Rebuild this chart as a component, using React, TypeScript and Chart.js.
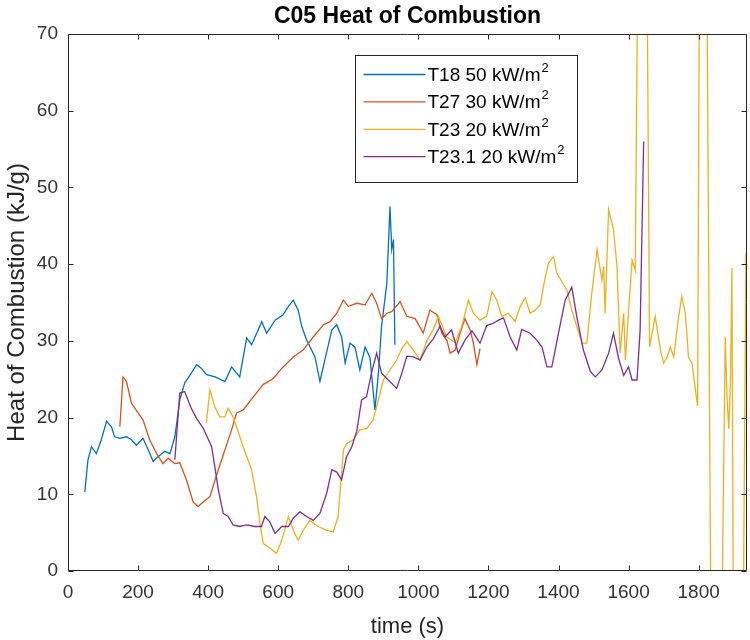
import React, { useEffect, useRef } from "react";
import { Chart, registerables } from "chart.js";

Chart.register(...registerables);

const FONT = '"Liberation Sans", Arial, Helvetica, sans-serif';

const chartTitle = "C05 Heat of Combustion";
const xLabel = "time (s)";
const yLabel = "Heat of Combustion (kJ/g)";

const seriesNames = ["T18 50 kW/m²", "T27 30 kW/m²", "T23 20 kW/m²", "T23.1 20 kW/m²"];
const legendBase = ["T18 50 kW/m", "T27 30 kW/m", "T23 20 kW/m", "T23.1 20 kW/m"];
const legendSup = "2";
const seriesColors = ["#0072BD", "#D95319", "#EDB120", "#7E2F8E"];

const xTicks = [0, 200, 400, 600, 800, 1000, 1200, 1400, 1600, 1800];
const yTicks = [0, 10, 20, 30, 40, 50, 60, 70];
const xMin = 0;
const xMax = 1938;
const yMin = 0;
const yMax = 70;

// T18 50 kW/m2
const tT18 = [48, 57, 67, 81, 95, 110, 124, 133, 148, 167, 181, 195, 214, 229, 243, 257, 276, 291, 305, 319, 333, 352, 367, 381, 395, 420, 448, 467, 490, 510, 524, 553, 567, 591, 614, 629, 643, 657, 667, 681, 705, 719, 733, 753, 767, 781, 791, 805, 819, 833, 848, 862, 876, 886, 895, 910, 919, 924, 929, 933];
const vT18 = [10.3, 14.5, 16.2, 15.3, 17.1, 19.5, 18.8, 17.5, 17.3, 17.5, 17.1, 16.4, 17.3, 15.8, 14.3, 14.9, 15.6, 15.3, 17.5, 22.3, 24.5, 25.8, 26.9, 26.4, 25.6, 25.3, 24.7, 26.6, 25.3, 30.4, 29.5, 32.5, 31, 32.7, 33.4, 34.5, 35.3, 34, 31.9, 30.1, 27.9, 24.7, 27.5, 31.4, 32.1, 30.5, 27.1, 29.7, 29.2, 26.2, 29.2, 27.8, 21, 25.8, 31.9, 37.5, 47.5, 41.9, 43.2, 29.5];

// T27 30 kW/m2
const tT27 = [148, 157, 167, 181, 200, 214, 233, 253, 271, 286, 305, 319, 338, 357, 371, 386, 405, 429, 448, 467, 481, 500, 529, 557, 586, 614, 643, 671, 700, 729, 748, 767, 786, 800, 824, 848, 867, 881, 895, 910, 924, 948, 967, 991, 1014, 1033, 1053, 1067, 1081, 1091, 1105, 1119, 1133, 1148, 1157, 1167, 1176];
const vT27 = [18.8, 25.3, 24.7, 21.9, 20.6, 19.7, 17.1, 15.3, 14.0, 14.7, 14.0, 14.1, 11.9, 9.0, 8.4, 9.0, 9.7, 13.2, 15.8, 18.4, 20.6, 21.0, 22.7, 24.3, 25.1, 26.6, 27.9, 28.8, 30.5, 32.1, 32.5, 33.6, 35.3, 34.5, 34.9, 34.7, 36.2, 34.9, 32.9, 33.6, 33.8, 35.1, 33.2, 32.9, 31.0, 34.0, 33.4, 31.0, 30.1, 28.4, 28.8, 31.0, 32.9, 31.4, 29.7, 26.9, 29.0];

// T23 20 kW/m2
const tT23 = [395, 405, 419, 433, 448, 457, 471, 481, 500, 524, 538, 548, 557, 576, 595, 610, 629, 643, 657, 671, 690, 714, 738, 757, 771, 786, 795, 814, 833, 853, 871, 886, 900, 919, 938, 953, 967, 986, 1005, 1024, 1043, 1057, 1081, 1105, 1124, 1143, 1157, 1176, 1195, 1210, 1224, 1238, 1257, 1276, 1291, 1305, 1319, 1333, 1348, 1357, 1371, 1386, 1395, 1410, 1424, 1438, 1452, 1467, 1481, 1495, 1510, 1524, 1529, 1533, 1543, 1557, 1567, 1576, 1586, 1591, 1600, 1610, 1619, 1632, 1648, 1660, 1676, 1691, 1700, 1710, 1719, 1729, 1743, 1752, 1762, 1771, 1781, 1797, 1806, 1818, 1838, 1860, 1876, 1881, 1886, 1891, 1895, 1902, 1922, 1935, 1938];
const vT23 = [19.3, 23.6, 21.4, 20.1, 20.1, 21.2, 20.1, 18.8, 16.2, 13.2, 9.7, 6.2, 3.6, 3.0, 2.3, 4.0, 7.1, 5.3, 4.0, 5.3, 6.6, 5.8, 5.3, 5.1, 7.1, 15.8, 16.6, 17.1, 18.4, 18.6, 19.7, 22.3, 24.9, 26.2, 27.5, 29.0, 29.9, 28.8, 27.5, 30.0, 31.5, 33.2, 30.5, 29.8, 31.9, 35.3, 33.6, 32.7, 33.2, 36.4, 35.3, 33.2, 33.6, 32.5, 34.5, 35.6, 33.6, 34.0, 34.7, 37.1, 40.1, 41.0, 38.8, 37.7, 36.6, 34.0, 31.9, 29.7, 29.7, 36.2, 41.9, 37.9, 39.7, 33.6, 47.1, 44.5, 39.7, 28.4, 33.6, 27.5, 34.0, 40.5, 39.2, 110, 110, 29.2, 33.2, 28.8, 27.1, 27.9, 29.2, 27.9, 33.2, 35.8, 33.6, 27.9, 27.1, 21.5, 120, 120, -30, -30, 30.5, 22.7, 18.5, 25.0, 39.5, -40, -40, 41.5, 40.0];

// T23.1 20 kW/m2
const tT231 = [305, 319, 333, 352, 367, 386, 400, 410, 419, 429, 443, 457, 471, 490, 510, 533, 552, 562, 576, 591, 610, 629, 643, 662, 681, 700, 719, 738, 753, 767, 781, 795, 810, 824, 838, 852, 867, 881, 895, 914, 938, 953, 967, 986, 1005, 1024, 1043, 1062, 1076, 1095, 1114, 1133, 1153, 1176, 1195, 1214, 1229, 1243, 1262, 1281, 1295, 1319, 1338, 1353, 1367, 1381, 1400, 1419, 1438, 1452, 1471, 1491, 1505, 1524, 1543, 1557, 1571, 1586, 1600, 1610, 1624, 1633, 1643];
const vT231 = [14.5, 23.2, 23.4, 21.2, 19.9, 18.6, 17.2, 16.2, 13.6, 10.6, 7.5, 7.1, 6.0, 5.8, 6.0, 5.8, 5.8, 7.1, 6.4, 4.9, 5.8, 5.8, 6.9, 7.7, 7.1, 6.6, 7.5, 10.1, 13.2, 12.9, 11.9, 14.9, 16.2, 18.2, 22.3, 22.7, 26.0, 28.4, 25.8, 24.9, 23.8, 25.8, 28.0, 27.9, 27.5, 29.2, 30.3, 31.9, 30.5, 31.4, 28.4, 30.1, 31.3, 29.7, 32.0, 32.3, 32.7, 33.0, 30.5, 28.8, 31.5, 31.0, 30.1, 29.2, 26.6, 26.6, 31.0, 35.3, 37.0, 33.2, 28.8, 26.0, 25.3, 26.2, 28.4, 31.0, 27.8, 25.5, 26.6, 24.9, 24.9, 31.4, 56.0];

const seriesTimes = [tT18, tT27, tT23, tT231];
const seriesValues = [vT18, vT27, vT23, vT231];

const AXIS_COLOR = "#262626";

const boxPlugin = {
  id: "matlabBox",
  afterDatasetsDraw(chart: any) {
    const { ctx, chartArea, scales } = chart;
    const { left, right, top, bottom } = chartArea;
    const L = Math.round(left) + 0.5;
    const R = Math.round(right) - 0.5;
    const T = Math.round(top) + 0.5;
    const B = Math.round(bottom) - 0.5;
    ctx.save();
    ctx.strokeStyle = AXIS_COLOR;
    ctx.lineWidth = 1;
    ctx.beginPath();
    ctx.rect(L, T, R - L, B - T);
    ctx.stroke();
    const tl = 5;
    ctx.beginPath();
    xTicks.forEach((v) => {
      const px = Math.round(scales.x.getPixelForValue(v)) + 0.5;
      ctx.moveTo(px, B);
      ctx.lineTo(px, B - tl);
      ctx.moveTo(px, T);
      ctx.lineTo(px, T + tl);
    });
    yTicks.forEach((v) => {
      const py = Math.round(scales.y.getPixelForValue(v)) + 0.5;
      ctx.moveTo(L, py);
      ctx.lineTo(L + tl, py);
      ctx.moveTo(R, py);
      ctx.lineTo(R - tl, py);
    });
    ctx.stroke();
    ctx.restore();
  },
};

const legendPlugin = {
  id: "matlabLegend",
  afterDraw(chart: any) {
    const { ctx, chartArea } = chart;
    const bx = Math.round(chartArea.left + 287) + 0.5;
    const by = Math.round(chartArea.top + 21) + 0.5;
    const bw = 222;
    const bh = 127;
    ctx.save();
    ctx.fillStyle = "#ffffff";
    ctx.fillRect(bx, by, bw, bh);
    ctx.strokeStyle = AXIS_COLOR;
    ctx.lineWidth = 1;
    ctx.strokeRect(bx, by, bw, bh);
    legendBase.forEach((txt, i) => {
      const y = by + 19 + i * 27.4;
      ctx.strokeStyle = seriesColors[i];
      ctx.lineWidth = 1.3;
      ctx.beginPath();
      ctx.moveTo(bx + 8, y);
      ctx.lineTo(bx + 70, y);
      ctx.stroke();
      ctx.fillStyle = "#000000";
      ctx.textBaseline = "middle";
      ctx.textAlign = "left";
      ctx.font = `19px ${FONT}`;
      ctx.fillText(txt, bx + 72, y + 1);
      const w = ctx.measureText(txt).width;
      ctx.font = `13px ${FONT}`;
      ctx.fillText(legendSup, bx + 72 + w + 1, y - 6);
    });
    ctx.restore();
  },
};

export default function App() {
  const canvasRef = useRef<HTMLCanvasElement | null>(null);

  useEffect(() => {
    const canvas = canvasRef.current;
    if (!canvas) return;
    const datasets = seriesTimes.map((ts, i) => ({
      label: seriesNames[i],
      data: ts.map((t, j) => ({ x: t, y: seriesValues[i][j] })),
      borderColor: seriesColors[i],
      backgroundColor: seriesColors[i],
      borderWidth: 1.3,
      pointRadius: 0,
      pointHoverRadius: 0,
      tension: 0,
      fill: false,
      order: 4 - i,
    }));
    const tickFont = { family: FONT, size: 19 };
    const chart = new Chart(canvas, {
      type: "line",
      data: { datasets },
      options: {
        responsive: false,
        animation: false,
        events: [],
        layout: { padding: { left: 0, right: 3, top: 0, bottom: 0 } },
        plugins: {
          legend: { display: false },
          tooltip: { enabled: false },
          title: {
            display: true,
            text: chartTitle,
            fullSize: false,
            color: "#000000",
            font: { family: FONT, size: 23, weight: "bold", lineHeight: 1.2 },
            padding: { top: 3, bottom: 3.4 },
          },
        },
        scales: {
          x: {
            type: "linear",
            min: xMin,
            max: xMax,
            grid: { display: false, drawTicks: false },
            border: { display: false },
            ticks: {
              padding: 10,
              font: tickFont,
              color: "#333333",
              autoSkip: false,
              maxRotation: 0,
              includeBounds: false,
              callback: (v: any) => String(v),
            },
            afterBuildTicks: (s: any) => {
              s.ticks = xTicks.map((v) => ({ value: v }));
            },
            afterFit: (s: any) => {
              s.height = 69;
            },
            title: {
              display: true,
              text: xLabel,
              color: AXIS_COLOR,
              font: { family: FONT, size: 22, lineHeight: 1.2 },
              padding: { top: 0, bottom: 0 },
            },
          },
          y: {
            type: "linear",
            min: yMin,
            max: yMax,
            grid: { display: false, drawTicks: false },
            border: { display: false },
            ticks: {
              padding: 10,
              font: tickFont,
              color: "#333333",
              autoSkip: false,
              includeBounds: false,
              callback: (v: any) => String(v),
            },
            afterBuildTicks: (s: any) => {
              s.ticks = yTicks.map((v) => ({ value: v }));
            },
            afterFit: (s: any) => {
              s.width = 68;
            },
            title: {
              display: true,
              text: yLabel,
              color: AXIS_COLOR,
              font: { family: FONT, size: 24, lineHeight: 1.2 },
              padding: { top: 3, bottom: 0 },
            },
          },
        },
      },
      plugins: [boxPlugin, legendPlugin],
    } as any);
    return () => {
      chart.destroy();
    };
  }, []);

  return (
    <div
      style={{
        position: "fixed",
        left: 0,
        top: 0,
        width: 750,
        height: 640,
        background: "#ffffff",
      }}
    >
      <canvas ref={canvasRef} width={750} height={640} style={{ display: "block" }} />
    </div>
  );
}
